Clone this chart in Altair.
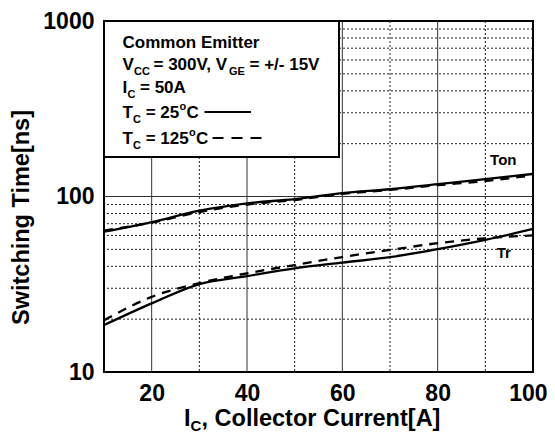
import altair as alt
import pandas as pd

# ---- data ----
x_vals = [10, 20, 30, 40, 50, 60, 70, 80, 90, 100]
ton_25 = [63, 71.5, 83, 91.5, 96.5, 104.5, 110, 117.5, 125.5, 134.5]
ton_125 = [64, 71, 81.5, 90, 95.5, 103.5, 109, 116, 122.5, 132]
tr_25 = [18.5, 24.6, 31.7, 35.2, 39, 42, 45.1, 50.1, 56.6, 65.3]
tr_125 = [19.7, 26.8, 32.1, 36.5, 40.7, 45.2, 49.6, 54.2, 57.8, 60]

x_ticks = [20, 40, 60, 80, 100]
y_ticks = [10, 100, 1000]
vgrid_solid = [20, 40, 60, 80]
vgrid_dotted = [30, 50, 70, 90]
hgrid_solid = [100]
hgrid_dotted = [20, 30, 40, 50, 60, 70, 80, 90, 200, 300, 400, 500, 600, 700, 800, 900]

curve_labels = ["Ton", "Tr"]
curve_label_x = [91, 92.4]
curve_label_y = [151.7, 44.7]

FONT = "Liberation Sans"
W, H = 429, 351

rows = []
for name, temp, vals in [("Ton", "25", ton_25), ("Ton", "125", ton_125),
                         ("Tr", "25", tr_25), ("Tr", "125", tr_125)]:
    for xv, yv in zip(x_vals, vals):
        rows.append({"x": xv, "t": yv, "curve": name, "temp": temp})
df = pd.DataFrame(rows)

xs = alt.Scale(domain=[10, 100], nice=False, zero=False)
ys = alt.Scale(type="log", domain=[10, 1000], nice=False)

x_axis = alt.Axis(values=x_ticks, labelFontSize=23, labelFontWeight="bold", labelFont=FONT,
                  labelColor="black", ticks=False, domain=False, grid=False, title=None,
                  labelPadding=10, labelFlush=True, labelFlushOffset=14, labelOverlap=False)
y_axis = alt.Axis(values=y_ticks, format="d", labelFontSize=23, labelFontWeight="bold",
                  labelFont=FONT, labelColor="black", ticks=False, domain=False, grid=False,
                  title=None, labelPadding=10, labelOverlap=False)

# grid
vs = alt.Chart(pd.DataFrame({"x": vgrid_solid})).mark_rule(color="#333", strokeWidth=1).encode(
    x=alt.X("x:Q", scale=xs, axis=x_axis))
vd = alt.Chart(pd.DataFrame({"x": vgrid_dotted})).mark_rule(color="#222", strokeWidth=1, strokeDash=[2, 2]).encode(
    x=alt.X("x:Q", scale=xs))
hs = alt.Chart(pd.DataFrame({"y": hgrid_solid})).mark_rule(color="#333", strokeWidth=1).encode(
    y=alt.Y("y:Q", scale=ys, axis=y_axis))
hd = alt.Chart(pd.DataFrame({"y": hgrid_dotted})).mark_rule(color="#222", strokeWidth=1, strokeDash=[2, 2]).encode(
    y=alt.Y("y:Q", scale=ys))

one = pd.DataFrame({"a": [0]})

box = alt.Chart(one).mark_rect(fill="white", stroke="black", strokeWidth=2).encode(
    x=alt.value(0), x2=alt.value(235), y=alt.value(0), y2=alt.value(136))


def txt(s, x, y, size=17, align="left", baseline="alphabetic", angle=None):
    kw = dict(text=s, font=FONT, fontWeight="bold", fontSize=size, color="black",
              align=align, baseline=baseline)
    if angle is not None:
        kw["angle"] = angle
    return alt.Chart(one).mark_text(**kw).encode(x=alt.value(x), y=alt.value(y))


legend_txt = [
    txt("Common Emitter", 18.5, 26.5),
    txt("V", 18.5, 49), txt("CC", 30, 54, 11), txt("= 300V, V", 49.5, 49),
    txt("GE", 125, 54, 11), txt("= +/- 15V", 145.5, 49),
    txt("I", 18.5, 71.5), txt("C", 23.5, 76.5, 11), txt("= 50A", 36, 71.5),
    txt("T", 18.5, 96.5), txt("C", 29, 101.5, 11), txt("= 25", 41.7, 96.5),
    txt("o", 75.5, 88.5, 11), txt("C", 82.5, 96.5),
    txt("T", 18.5, 122.5), txt("C", 29, 127.5, 11), txt("= 125", 41.7, 122.5),
    txt("o", 85, 114.5, 11), txt("C", 92, 122.5),
]
leg_solid = alt.Chart(one).mark_rule(color="black", strokeWidth=2).encode(
    x=alt.value(100.5), x2=alt.value(147), y=alt.value(91))
leg_dash = alt.Chart(one).mark_rule(color="black", strokeWidth=2, strokeDash=[11, 8]).encode(
    x=alt.value(108.5), x2=alt.value(157.5), y=alt.value(117))

solid = alt.Chart(df[df.temp == "25"]).mark_line(color="black", strokeWidth=2.3, interpolate="monotone").encode(
    x=alt.X("x:Q", scale=xs), y=alt.Y("t:Q", scale=ys), detail="curve:N")
dashed = alt.Chart(df[df.temp == "125"]).mark_line(color="black", strokeWidth=2.3, strokeDash=[9, 7],
                                                   interpolate="monotone").encode(
    x=alt.X("x:Q", scale=xs), y=alt.Y("t:Q", scale=ys), detail="curve:N")

lab = alt.Chart(pd.DataFrame({"x": curve_label_x, "y": curve_label_y, "s": curve_labels})).mark_text(
    font=FONT, fontWeight="bold", fontSize=15, color="black", align="left", baseline="alphabetic").encode(
    x=alt.X("x:Q", scale=xs), y=alt.Y("y:Q", scale=ys), text="s:N")

titles = [
    txt("Switching Time[ns]", -82.5, 196.5, 23.5, align="center", baseline="middle", angle=270),
    txt("I", 80, 404.5, 23.5), txt("C", 86.5, 409.5, 15), txt(", Collector Current[A]", 97.5, 404.5, 23.5),
]

chart = alt.layer(vs, vd, hs, hd, box, *legend_txt, leg_solid, leg_dash, solid, dashed, lab, *titles).properties(
    width=W, height=H,
    autosize=alt.AutoSizeParams(type="none"),
    padding={"left": 96, "top": 13, "right": 14, "bottom": 64},
    background="white",
).configure_view(stroke="black", strokeWidth=2)

chart.save("out.html", embed_options={"renderer": "svg", "actions": False})
